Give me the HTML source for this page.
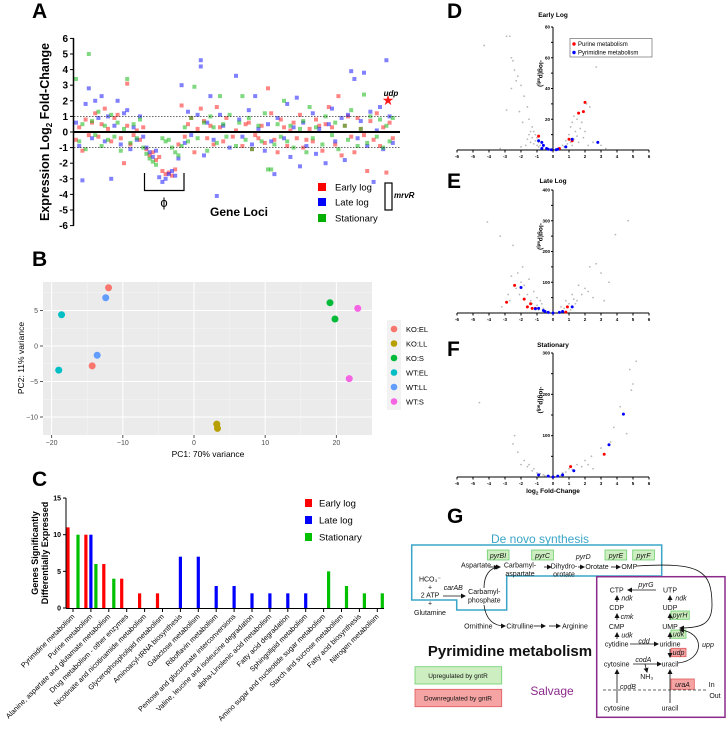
<!DOCTYPE html>
<html><head><meta charset="utf-8">
<style>
html,body{margin:0;padding:0;background:#fff;}
svg{display:block;font-family:"Liberation Sans",Arial,sans-serif;}
</style></head>
<body>
<svg id="fig" width="728" height="729" viewBox="0 0 728 729" xmlns="http://www.w3.org/2000/svg">
<defs><marker id="ah" markerWidth="5" markerHeight="5" refX="4" refY="2.5" orient="auto" markerUnits="userSpaceOnUse"><path d="M0,0 L5,2.5 L0,5 z" fill="#111"/></marker></defs>
<!-- panel letters -->
<g font-weight="bold" font-size="21" fill="#000">
<text x="32" y="18">A</text>
<text x="32" y="266">B</text>
<text x="32" y="486">C</text>
<text x="447" y="18">D</text>
<text x="447" y="188">E</text>
<text x="447" y="356">F</text>
<text x="447" y="523">G</text>
</g>
<g id="pA"></g>
<g id="pB"></g>
<g id="pC"></g>
<g id="pV"></g>
<!-- Panel G diagram -->
<g id="pG" font-size="7" fill="#111">
<text x="540" y="543" text-anchor="middle" font-size="12" fill="#3aa6c7">De novo synthesis</text>
<polygon points="411.7,545 661.7,545 661.7,576 506.7,576 506.7,610 456.7,610 456.7,600 411.7,600" fill="none" stroke="#3aa6c7" stroke-width="1.5"/>
<rect x="596.7" y="576.7" width="128.3" height="140.6" fill="none" stroke="#8b2a8b" stroke-width="1.5"/>
<g fill="#cdeec0" stroke="#6ccf6c" stroke-width="0.8">
<rect x="487.3" y="550" width="21.7" height="10"/>
<rect x="531.7" y="550" width="21.7" height="10"/>
<rect x="605" y="550" width="21.7" height="10"/>
<rect x="632.7" y="550" width="21.7" height="10"/>
<rect x="671" y="611" width="18.3" height="8.3"/>
<rect x="671" y="630" width="15" height="8.3"/>
<rect x="415" y="666.7" width="86.7" height="17.3"/>
</g>
<g fill="#f5a3a3" stroke="#e05a5a" stroke-width="0.8">
<rect x="671" y="648.3" width="15" height="8.4"/>
<rect x="671" y="679" width="23.3" height="10.3"/>
<rect x="415" y="689.3" width="86.7" height="17.4"/>
</g>
<g font-style="italic" text-anchor="middle">
<text x="498" y="558">pyrBI</text><text x="542.5" y="558">pyrC</text><text x="616" y="558">pyrE</text><text x="643.5" y="558">pyrF</text>
<text x="583.3" y="559">pyrD</text><text x="453.3" y="590">carAB</text>
<text x="680" y="617.5">pyrH</text><text x="678.5" y="636.5">udk</text><text x="678.5" y="655">udp</text><text x="682.5" y="687">uraA</text>
<text x="646" y="587">pyrG</text><text x="627" y="600.5">ndk</text><text x="681" y="600.5">ndk</text>
<text x="627" y="619">cmk</text><text x="627" y="637.5">udk</text><text x="644" y="643.5">cdd</text>
<text x="708" y="647">upp</text><text x="643.3" y="662">codA</text><text x="628" y="689">codB</text>
</g>
<g text-anchor="middle">
<text x="476" y="567.5">Aspartate</text><text x="520" y="567.5">Carbamyl-</text><text x="520" y="576">aspartate</text>
<text x="564" y="568.5">Dihydro-</text><text x="564" y="576.5">orotate</text><text x="597" y="569">Orotate</text><text x="629.3" y="569">OMP</text>
<text x="430" y="581.5">HCO₃⁻</text><text x="430" y="589.5">+</text><text x="430" y="597.5">2 ATP</text><text x="430" y="605.5">+</text><text x="430" y="615">Glutamine</text>
<text x="484.3" y="594">Carbamyl-</text><text x="484.3" y="602.5">phosphate</text>
<text x="478.3" y="628.5">Ornithine</text><text x="520" y="628.5">Citrulline</text><text x="575" y="628.5">Arginine</text>
<text x="616.7" y="592.5">CTP</text><text x="670" y="592.5">UTP</text><text x="616.7" y="610">CDP</text><text x="670" y="610">UDP</text>
<text x="616.7" y="629">CMP</text><text x="670" y="629">UMP</text><text x="616.7" y="646.5">cytidine</text><text x="670" y="646.5">uridine</text>
<text x="616.7" y="666.5">cytosine</text><text x="670" y="666.5">uracil</text><text x="646.7" y="679">NH₃</text>
<text x="711.7" y="687">In</text><text x="715" y="698">Out</text><text x="616.7" y="710.5">cytosine</text><text x="670" y="710.5">uracil</text>
<text x="458" y="678" font-size="6.5">Upregulated by gntR</text><text x="458" y="700.5" font-size="6.5">Downregulated by gntR</text>
</g>
<text x="510" y="656" text-anchor="middle" font-size="15" font-weight="bold">Pyrimidine metabolism</text>
<text x="552" y="695" text-anchor="middle" font-size="12" fill="#8b2a8b">Salvage</text>
<line x1="603" y1="690" x2="707" y2="690" stroke="#666" stroke-dasharray="3,2"/>
<g stroke="#111" stroke-width="0.8" fill="none" marker-end="url(#ah)">
<line x1="489" y1="567" x2="500" y2="567"/><line x1="544" y1="567" x2="551" y2="567"/><line x1="578" y1="567" x2="584" y2="567"/><line x1="611" y1="567" x2="620" y2="567"/>
<line x1="443" y1="596" x2="465" y2="596"/>
<path d="M637,566 C700,562 712,570 712,605 C712,625 700,628 680,628"/>
<path d="M484,588 C484,575 490,568 498,567"/>
<path d="M484,605 C486,620 494,626 505,626"/>
<line x1="534" y1="626" x2="545" y2="626"/><line x1="549" y1="626" x2="560" y2="626"/>
<line x1="656" y1="590" x2="628" y2="590"/>
<line x1="617" y1="602" x2="617" y2="596"/><line x1="670" y1="602" x2="670" y2="596"/>
<line x1="617" y1="620" x2="617" y2="614"/><line x1="670" y1="620" x2="670" y2="614"/>
<line x1="617" y1="639" x2="617" y2="633"/><line x1="670" y1="639" x2="670" y2="633"/>
<line x1="630" y1="644" x2="658" y2="644"/><line x1="670" y1="649" x2="670" y2="657"/>
<line x1="633" y1="664" x2="661" y2="664"/><line x1="645" y1="664" x2="647" y2="672"/>
<path d="M678,663 C705,660 705,632 680,630"/>
<line x1="617" y1="703" x2="617" y2="670"/><line x1="670" y1="703" x2="670" y2="670"/>
</g>
</g>
</svg>
<script>
// ===== Panel A data: [locus index, log2 fold change] =====
const aEarly=[[0,-0.5],[1,0.3],[2,-1.2],[3,0.8],[5,0.6],[6,1.2],[7,-0.3],[8,0.5],[9,1.5],[10,0.2],[11,-0.6],[12,0.9],[13,1.1],[14,-0.4],[15,-2],[16,0.4],[16,3.1],[17,-0.8],[18,-0.2],[19,0.1],[20,-0.5],[22,-1.1],[23,-1.5],[24,-1.3],[25,-1.8],[27,-2.5],[28,-2.7],[29,-2.6],[30,-2.8],[31,-2.4],[32,-0.8],[33,1.7],[34,-0.3],[35,0.5],[36,0.9],[37,-1.3],[38,0.2],[39,1.5],[40,0.7],[41,-0.4],[42,0.4],[44,1.6],[45,0.3],[46,-0.6],[47,0.9],[49,-0.3],[50,0.1],[52,-0.9],[53,0.5],[55,-1.1],[56,-0.2],[58,0.4],[59,-0.7],[60,2.8],[61,1.2],[62,-0.5],[63,-1.3],[65,0.3],[66,-0.9],[68,0.6],[69,-0.4],[70,1.1],[71,-1.0],[73,0.2],[74,-0.6],[75,0.8],[77,-1.2],[78,0.5],[79,1.6],[80,0.3],[81,-0.8],[82,2.3],[83,-1.5],[84,0.4],[86,-0.3],[87,-1.3],[88,0.9],[90,-0.2],[91,-2.5],[92,0.7],[93,-0.5],[94,1.2],[95,-0.9],[96,0.3],[97,-2.6],[98,0.6],[99,-0.4],[4,-0.2],[21,0.3],[26,-1.6],[43,-0.8],[54,0.6],[57,-0.4],[64,0.8],[67,0.1],[72,-0.5],[76,0.4],[85,1.0],[89,0.2]];
const aLate=[[0,0.6],[1,-0.9],[2,-3.1],[3,1.8],[4,2.8],[5,-0.4],[6,2.0],[7,0.9],[8,2.3],[9,-0.6],[10,1.0],[11,-3.0],[12,0.4],[13,2.0],[14,-0.8],[15,1.2],[16,1.4],[17,-1.1],[18,0.3],[19,-0.5],[20,1.0],[21,-0.3],[22,-1.0],[23,-1.3],[24,-1.6],[25,-1.2],[26,-2.9],[27,-3.2],[28,-3.0],[29,-2.7],[30,-2.5],[31,-2.8],[32,-1.7],[33,3.0],[34,-0.7],[35,1.3],[36,-0.2],[38,1.1],[39,4.6],[39,4.2],[40,-1.5],[41,0.6],[42,2.3],[43,-0.5],[44,-4.1],[45,1.1],[46,0.4],[48,-1.0],[50,3.6],[51,0.8],[52,-0.3],[54,1.4],[55,-0.8],[56,2.3],[57,0.2],[59,-1.2],[60,0.5],[61,-0.6],[62,-2.7],[63,0.9],[65,-0.4],[66,1.8],[67,-1.6],[68,0.3],[69,2.2],[70,-2.2],[71,0.6],[72,-0.9],[74,1.2],[75,-1.4],[76,0.2],[78,-2.0],[79,0.5],[80,1.5],[81,-0.6],[83,0.9],[84,-1.8],[85,1.1],[86,3.9],[87,3.4],[88,-0.4],[89,0.7],[90,3.8],[91,-0.9],[92,1.3],[93,-3.2],[94,0.1],[95,1.6],[96,-1.1],[97,4.6],[98,1.0],[99,-0.7]];
const aStat=[[0,3.4],[1,-0.6],[2,0.5],[3,-1.1],[4,5.0],[5,0.7],[6,-0.2],[7,1.3],[8,-0.9],[9,0.4],[10,-0.5],[11,1.1],[12,-0.3],[13,0.6],[14,-1.2],[15,0.2],[16,3.4],[17,-0.7],[18,0.5],[19,-0.4],[20,0.8],[21,-1.0],[22,-1.4],[23,-1.7],[24,-1.9],[25,-2.1],[27,-0.4],[28,-0.6],[29,-0.5],[30,-1.0],[31,-1.3],[32,-1.5],[33,-0.9],[34,0.3],[35,-0.6],[36,0.9],[37,2.9],[38,-0.4],[40,0.6],[41,-1.2],[42,1.0],[43,0.3],[44,-0.7],[45,2.3],[46,0.5],[47,-0.3],[48,1.1],[50,-0.9],[51,0.6],[52,2.3],[53,-0.5],[54,0.9],[55,-1.1],[57,0.4],[58,-0.6],[59,1.2],[60,-2.4],[61,-2.4],[62,-0.8],[63,0.5],[64,-0.3],[65,2.0],[66,-0.6],[67,0.4],[68,-1.0],[70,0.2],[71,0.7],[72,-1.3],[73,1.6],[74,-0.4],[75,0.3],[77,-0.8],[78,1.0],[80,-0.2],[81,0.6],[82,-1.1],[84,0.4],[85,-0.5],[86,1.4],[88,-0.9],[89,0.2],[90,2.4],[91,-0.7],[92,1.0],[94,-0.3],[95,0.8],[96,-1.0],[97,0.4],[98,-0.6],[99,0.9]];
const aTicks=[6,5,4,3,2,1,0,-1,-2,-3,-4,-5,-6];
// ===== Panel B data: [PC1, PC2] =====
const bGroups=["KO:EL","KO:LL","KO:S","WT:EL","WT:LL","WT:S"];
const bColors=["#f8766d","#b79f00","#00ba38","#00bfc4","#619cff","#f564e3"];
const bPoints=[[[-12,8.2],[-14.3,-2.8]],[[3.2,-11],[3.3,-11.6]],[[19.1,6.1],[19.8,3.8]],[[-18.6,4.4],[-19,-3.4]],[[-12.4,6.8],[-13.6,-1.3]],[[23,5.3],[21.8,-4.6]]];
const bXTicks=[-20,-10,0,10,20];
const bYTicks=[5,0,-5,-10];
// ===== Panel C data =====
const cCats=["Pyrimidine metabolism","Purine metabolism","Alanine, aspartate and glutamate metabolism","Drug metabolism - other enzymes","Nicotinate and nicotinamide metabolism","Glycerophospholipid metabolism","Aminoacyl-tRNA biosynthesis","Galactose metabolism","Riboflavin metabolism","Pentose and glucuronate interconversions","Valine, leucine and isoleucine degradation","alpha-Linolenic acid metabolism","Fatty acid degradation","Sphingolipid metabolism","Amino sugar and nucleotide sugar metabolism","Starch and sucrose metabolism","Fatty acid biosynthesis","Nitrogen metabolism"];
const cEarly=[11,10,6,4,2,2,0,0,0,0,0,0,0,0,0,0,0,0];
const cLate=[0,10,0,0,0,0,7,7,3,3,2,2,2,2,0,0,0,0];
const cStat=[10,6,4,0,0,0,0,0,0,0,0,0,0,0,5,3,2,2];
const cTicks=[0,5,10,15];
// ===== Volcano data: [log2FC, -log(padj)] =====
const dPurine=[[-0.9,9],[0.4,1],[1.0,7],[1.2,6],[1.6,24],[1.9,25],[2.0,31]];
const dPyr=[[-0.9,6],[-0.7,5],[-0.6,3],[-0.7,1],[-0.4,1],[-0.3,0.5],[-0.1,0.2],[0.2,0.2],[0.3,0.5],[0.8,2],[1.2,7],[2.8,5]];
const dGray=[[-4.3,68],[-2.9,74],[-2.7,74],[-2.6,60],[-2.5,58],[-2.4,52],[-2.2,48],[-2.3,45],[-2.0,42],[-1.8,35],[-2.6,40],[-2.9,26],[-1.6,28],[-1.5,20],[-1.3,15],[-1.2,12],[-1.1,10],[-1.0,8],[-0.9,5],[-0.8,3],[-0.6,2],[-1.4,5],[-1.7,3],[-2.0,2],[0.6,3],[0.8,6],[1.0,10],[1.1,15],[1.2,18],[1.3,22],[1.5,20],[1.4,12],[1.7,14],[2.1,30],[2.3,28],[2.7,54],[1.9,8],[2.5,5],[3.0,3],[3.3,1],[-3.3,1],[2.2,3],[-1.2,4],[-1.0,3],[-1.3,8],[-1.1,6],[-0.9,2],[0.7,2],[0.9,4],[1.1,5],[1.3,7],[1.2,3],[1.5,9],[1.6,5],[-1.5,10],[-1.4,12],[-1.6,7],[-2.1,25],[-1.9,18],[1.8,18],[2.0,12]];
const ePurine=[[-2.9,35],[-2.4,90],[-1.8,45],[-1.6,20],[-1.4,30],[-1.3,15],[-1.1,15],[0.9,20],[0.8,3]];
const ePyr=[[-2.0,83],[-1.1,14],[-0.9,15],[-0.6,8],[-0.5,5],[-0.3,2],[0,0],[0.4,2],[0.6,5],[1.2,20]];
const eGray=[[-4.1,296],[-3.3,250],[-2.5,220],[-1.9,150],[-2.2,130],[-2.6,120],[-1.5,110],[-1.8,90],[-1.2,70],[-1,50],[-0.8,40],[-0.7,30],[-2.8,60],[-3.2,20],[0.5,20],[0.8,40],[1.2,60],[1.6,90],[2.0,80],[2.3,150],[2.7,160],[3.0,130],[3.5,100],[4.7,300],[3.9,255],[-2.7,40],[1.4,30],[2.5,50],[3.2,40],[-1.4,40],[-1.6,60],[-2.0,100],[-2.3,80],[-1.3,30],[-1.0,25],[-0.6,15],[0.7,15],[1.0,30],[1.3,45],[1.8,60],[2.2,70],[1.5,40],[-2.1,60],[-0.9,10],[1.1,10]];
const fPurine=[[1.1,25],[3.2,55],[0,0]];
const fPyr=[[-0.9,5],[-0.3,2],[0,0],[0.3,2],[0.6,5],[1.3,15],[3.5,78],[4.4,152]];
const fGray=[[-4.6,180],[-2.4,100],[-2.5,80],[-2.2,60],[-1.8,40],[-1.5,30],[-1.2,20],[-1,10],[0.6,10],[1,20],[1.5,30],[2,40],[2.4,50],[3.0,70],[3.6,85],[3.8,120],[4.2,170],[4.6,105],[4.9,210],[5.0,225],[5.2,280],[4.8,260],[2.5,20],[-0.6,5],[-1.3,15],[-1.6,25],[-0.8,8],[0.8,12],[1.2,18],[1.8,25],[2.2,30],[-2.0,30],[-0.5,3],[0.5,4]];
const vXTicks=[-6,-5,-4,-3,-2,-1,0,1,2,3,4,5,6];

const NS="http://www.w3.org/2000/svg";
function mk(tag,attrs,parent){const e=document.createElementNS(NS,tag);for(const k in attrs)e.setAttribute(k,attrs[k]);parent.appendChild(e);return e;}

// ----- Panel A -----
(function(){
const g=document.getElementById('pA');
const xA=i=>76+i*3.2, yA=v=>132-v*15.6;
function dots(arr,color,name){arr.forEach(p=>{const r=mk('rect',{x:xA(p[0])-2,y:yA(p[1])-2,width:4,height:4,fill:color,opacity:0.55},g);

});}
dots(aEarly,'#ff2020','point-early-log');dots(aLate,'#1a1aff','point-late-log');dots(aStat,'#18b818','point-stationary');
[1,-1].forEach(v=>{const l=mk('line',{x1:74,x2:400,y1:yA(v),y2:yA(v),stroke:'#333','stroke-dasharray':'1.5,1.5','stroke-width':0.8},g);

});
const z=mk('line',{x1:74,x2:400,y1:yA(0),y2:yA(0),stroke:'#000','stroke-width':2},g);


const ax=mk('line',{x1:73.5,x2:73.5,y1:yA(6),y2:yA(-6),stroke:'#000','stroke-width':1.5},g);


aTicks.forEach(v=>{mk('line',{x1:70,x2:74,y1:yA(v),y2:yA(v),stroke:'#000'},g);
const t=mk('text',{x:68,y:yA(v)+3.5,'text-anchor':'end','font-size':10,'font-weight':'bold'},g);t.textContent=v;

});
const yt=mk('text',{transform:'translate(49,132) rotate(-90)','text-anchor':'middle','font-size':12.5,'font-weight':'bold'},g);
yt.innerHTML='Expression Log<tspan font-size="8" dy="3">2</tspan><tspan dy="-3"> Fold-Change</tspan>';


const gl=mk('text',{x:239,y:216,'text-anchor':'middle','font-size':12,'font-weight':'bold'},g);gl.textContent='Gene Loci';


const br=mk('path',{d:'M144.5,173 V190.5 H184 V173',fill:'none',stroke:'#000','stroke-width':1.2},g);


const phi=mk('text',{x:164,y:207,'text-anchor':'middle','font-size':13},g);phi.textContent='ϕ';


const star=mk('text',{x:388,y:105,'text-anchor':'middle','font-size':14,fill:'#ff1a1a'},g);star.textContent='★';


const ud=mk('text',{x:391,y:96,'text-anchor':'middle','font-size':8,'font-weight':'bold','font-style':'italic'},g);ud.textContent='udp';


const mb=mk('rect',{x:385,y:183,width:7,height:27,fill:'none',stroke:'#000','stroke-width':1.2},g);


const mt=mk('text',{x:394,y:198,'font-size':8,'font-weight':'bold','font-style':'italic'},g);mt.textContent='mrvR';


[['Early log','#ff0000',188],['Late log','#0000ff',203],['Stationary','#00b000',219]].forEach(e=>{
const s=mk('rect',{x:318,y:e[2]-5,width:8,height:8,fill:e[1]},g);


const t=mk('text',{x:335,y:e[2]+2.5,'font-size':9.5},g);t.textContent=e[0];

});
})();

// ----- Panel B -----
(function(){
const g=document.getElementById('pB');
const xB=v=>194+v*7.12, yB=v=>346-v*7.1;
const bg=mk('rect',{x:43,y:282,width:329,height:153,fill:'#ebebeb'},g);


[-15,-5,5,15,25].forEach(v=>{if(xB(v)<372)mk('line',{x1:xB(v),x2:xB(v),y1:282,y2:435,stroke:'#f6f6f6','stroke-width':0.5},g);});
[7.5,2.5,-2.5,-7.5].forEach(v=>mk('line',{x1:43,x2:372,y1:yB(v),y2:yB(v),stroke:'#f6f6f6','stroke-width':0.5},g));
bXTicks.forEach(v=>{mk('line',{x1:xB(v),x2:xB(v),y1:282,y2:435,stroke:'#fff','stroke-width':1},g);
mk('line',{x1:xB(v),x2:xB(v),y1:435,y2:438,stroke:'#555'},g);
const t=mk('text',{x:xB(v),y:445,'text-anchor':'middle','font-size':7,fill:'#4d4d4d'},g);t.textContent=v<0?'\u2212'+(-v):v;

});
bYTicks.forEach(v=>{mk('line',{x1:43,x2:372,y1:yB(v),y2:yB(v),stroke:'#fff','stroke-width':1},g);
mk('line',{x1:40,x2:43,y1:yB(v),y2:yB(v),stroke:'#555'},g);
const t=mk('text',{x:38,y:yB(v)+2.5,'text-anchor':'end','font-size':7,fill:'#4d4d4d'},g);t.textContent=v<0?'\u2212'+(-v):v;

});
bPoints.forEach((pts,i)=>pts.forEach(p=>{const c=mk('circle',{cx:xB(p[0]),cy:yB(p[1]),r:3.5,fill:bColors[i]},g);

}));
const xt=mk('text',{x:208,y:457,'text-anchor':'middle','font-size':8.5},g);xt.textContent='PC1: 70% variance';


const yt=mk('text',{transform:'translate(24,358) rotate(-90)','text-anchor':'middle','font-size':8.5},g);yt.textContent='PC2: 11% variance';


const lb=mk('rect',{x:387,y:320,width:14,height:90,fill:'#f2f2f2'},g);


bGroups.forEach((n,i)=>{const y=329+i*14.5;
const c=mk('circle',{cx:394,cy:y,r:3.3,fill:bColors[i]},g);


const t=mk('text',{x:406,y:y+3,'font-size':7.5},g);t.textContent=n;

});
})();

// ----- Panel C -----
(function(){
const g=document.getElementById('pC');
const xC=i=>73+i*17.9, yC=v=>608-v*7.33;
const series=[[cEarly,'#ff0000',-5,'bar-early-log'],[cLate,'#0000ff',0,'bar-late-log'],[cStat,'#00c000',5,'bar-stationary']];
series.forEach(s=>s[0].forEach((v,i)=>{if(v>0){const r=mk('rect',{x:xC(i)+s[2]-1.6,y:yC(v),width:3.2,height:yC(0)-yC(v),fill:s[1]},g);

}}));
const ax=mk('line',{x1:66,x2:66,y1:yC(15),y2:yC(0),stroke:'#000','stroke-width':1},g);


const xa=mk('line',{x1:66,x2:384,y1:yC(0)+0.5,y2:yC(0)+0.5,stroke:'#000','stroke-width':1},g);


cTicks.forEach(v=>{mk('line',{x1:63,x2:66,y1:yC(v),y2:yC(v),stroke:'#000'},g);
const t=mk('text',{x:61,y:yC(v)+2.5,'text-anchor':'end','font-size':7,'font-weight':'bold'},g);t.textContent=v;

});
cCats.forEach((c,i)=>{mk('line',{x1:xC(i),x2:xC(i),y1:608,y2:612,stroke:'#000'},g);
const t=mk('text',{transform:`translate(${xC(i)+2},${617}) rotate(-45)`,'text-anchor':'end','font-size':7.2},g);t.textContent=c;

});
const yt=mk('text',{transform:'translate(38,553) rotate(-90)','text-anchor':'middle','font-size':9,'font-weight':'bold'},g);yt.textContent='Genes Significantly';


const yt2=mk('text',{transform:'translate(48,553) rotate(-90)','text-anchor':'middle','font-size':9,'font-weight':'bold'},g);yt2.textContent='Differentially Expressed';


[['Early log','#ff0000',503],['Late log','#0000ff',520],['Stationary','#00c000',537]].forEach(e=>{
const s=mk('rect',{x:305,y:e[2]-4,width:7,height:8,fill:e[1]},g);


const t=mk('text',{x:319,y:e[2]+3.5,'font-size':9.5},g);t.textContent=e[0];

});
})();

// ----- Volcano D/E/F -----
(function(){
const g=document.getElementById('pV');
const xV=v=>553+v*16;
const panels=[
 {title:'Early Log',ty:17,y0:150,ymax:80,step:20,minor:10,gray:dGray,pur:dPurine,pyr:dPyr,name:'volcano-early-log'},
 {title:'Late Log',ty:183,y0:313,ymax:400,step:100,minor:50,gray:eGray,pur:ePurine,pyr:ePyr,name:'volcano-late-log'},
 {title:'Stationary',ty:347,y0:477,ymax:300,step:100,minor:50,gray:fGray,pur:fPurine,pyr:fPyr,name:'volcano-stationary'}];
const tops=[27,190,353];
panels.forEach((P,pi)=>{
const sg=mk('g',{},g);


const top=tops[pi];
const yV=v=>P.y0-v*(P.y0-top)/P.ymax;
P.gray.forEach(p=>{const c=mk('circle',{cx:xV(p[0]),cy:yV(p[1]),r:0.9,fill:'#b8b8b8'},sg);

});
mk('line',{x1:xV(-6),x2:xV(6),y1:P.y0,y2:P.y0,stroke:'#000','stroke-width':1},sg);
mk('line',{x1:553,x2:553,y1:top,y2:P.y0,stroke:'#000','stroke-width':1},sg);
vXTicks.forEach(v=>{mk('line',{x1:xV(v),x2:xV(v),y1:P.y0,y2:P.y0+2.5,stroke:'#000'},sg);
const t=mk('text',{x:xV(v),y:P.y0+8,'text-anchor':'middle','font-size':4.5,'font-weight':'bold'},sg);t.textContent=v;

});
for(let v=P.minor;v<=P.ymax;v+=P.minor){mk('line',{x1:551,x2:553,y1:yV(v),y2:yV(v),stroke:'#000'},sg);
if(v%P.step===0){const t=mk('text',{x:550,y:yV(v)+1.5,'text-anchor':'end','font-size':4.5,'font-weight':'bold'},sg);t.textContent=v;

}}
P.pur.forEach(p=>{const c=mk('circle',{cx:xV(p[0]),cy:yV(p[1]),r:1.5,fill:'#ff0000'},sg);

});
P.pyr.forEach(p=>{const c=mk('circle',{cx:xV(p[0]),cy:yV(p[1]),r:1.5,fill:'#0000ff'},sg);

});
const tt=mk('text',{x:553,y:P.ty,'text-anchor':'middle','font-size':6.5,'font-weight':'bold'},sg);tt.textContent=P.title;


const yl=mk('text',{transform:`translate(539,${(top+P.y0)/2-15}) rotate(90)`,'text-anchor':'middle','font-size':6.5,'font-weight':'bold'},sg);
yl.innerHTML='-log(p<tspan font-size="4.5" dy="1.5">adj</tspan><tspan dy="-1.5">)</tspan>';


});
const xl=mk('text',{x:553,y:493,'text-anchor':'middle','font-size':6.5,'font-weight':'bold'},g);
xl.innerHTML='log<tspan font-size="4.5" dy="1.5">2</tspan><tspan dy="-1.5"> Fold-Change</tspan>';


const lb=mk('rect',{x:570,y:38.5,width:82,height:18.5,fill:'#fff',stroke:'#555','stroke-width':0.6},g);


[['Purine metabolism','#ff0000',44],['Pyrimidine metabolism','#0000ff',52.5]].forEach(e=>{
const c=mk('circle',{cx:574,cy:e[2],r:1.7,fill:e[1]},g);


const t=mk('text',{x:578,y:e[2]+2.2,'font-size':6},g);t.textContent=e[0];

});
})();
</script>
</body></html>
